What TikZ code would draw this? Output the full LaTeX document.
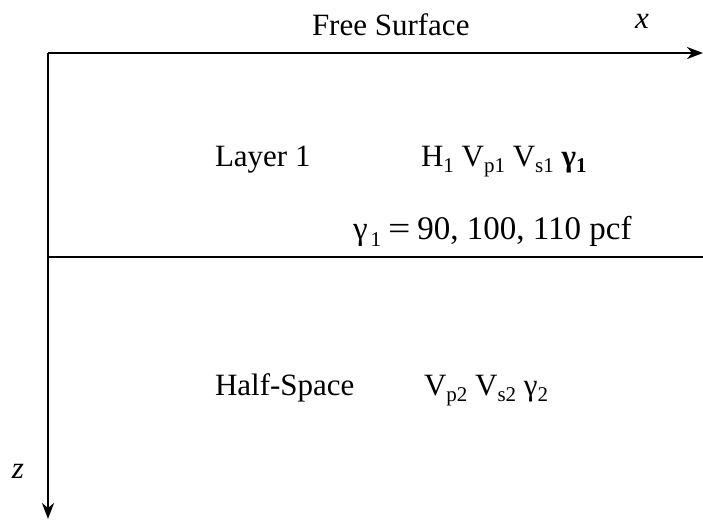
\documentclass[tikz,border=0pt]{standalone}
\usepackage{fontspec}
\setmainfont{Liberation Serif}
\usetikzlibrary{arrows.meta}
\newcommand{\lsub}[1]{\raisebox{-0.22em}{\fontsize{21}{21}\selectfont #1}}
\tikzset{
  lbl/.style={anchor=base west, inner sep=0pt, outer sep=0pt, font=\fontsize{31}{37}\selectfont},
  axis/.style={line width=2.5pt, -{Stealth[length=16pt,width=12pt,inset=5pt]}},
  iface/.style={line width=2.5pt}
}
\begin{document}
\begin{tikzpicture}[x=1pt,y=-1pt]
\useasboundingbox (0,0) rectangle (703,520);
\coordinate (O) at (48,53);
\coordinate (X) at (703,53);
\coordinate (Z) at (48,519);
\coordinate (L1) at (48,257);
\coordinate (L2) at (703,257);
\draw[axis] (O) -- (X);
\draw[axis] (O) -- (Z);
\draw[iface] (L1) -- (L2);
\node[lbl] (fs) at (312,35) {Free Surface};
\node[lbl] (xl) at (635,28) {\itshape x};
\node[lbl] (zl) at (12,478) {\itshape z};
\node[lbl] (l1) at (215,166) {Layer 1};
\node[lbl] (p1) at (421,166) {H\lsub{1} V\lsub{p1} V\lsub{s1} \textbf{γ\lsub{1}}};
\node[lbl, font=\fontsize{33}{39}\selectfont] (g1) at (353,239) {γ\hspace{3pt}\lsub{1}\hspace{7pt}\scalebox{1.2}[1]{=}\hspace{7pt}90, 100, 110 pcf};
\node[lbl] (hs) at (215,395) {Half-Space};
\node[lbl] (p2) at (424,395) {V\lsub{p2} V\lsub{s2} γ\lsub{2}};
\end{tikzpicture}
\end{document}
